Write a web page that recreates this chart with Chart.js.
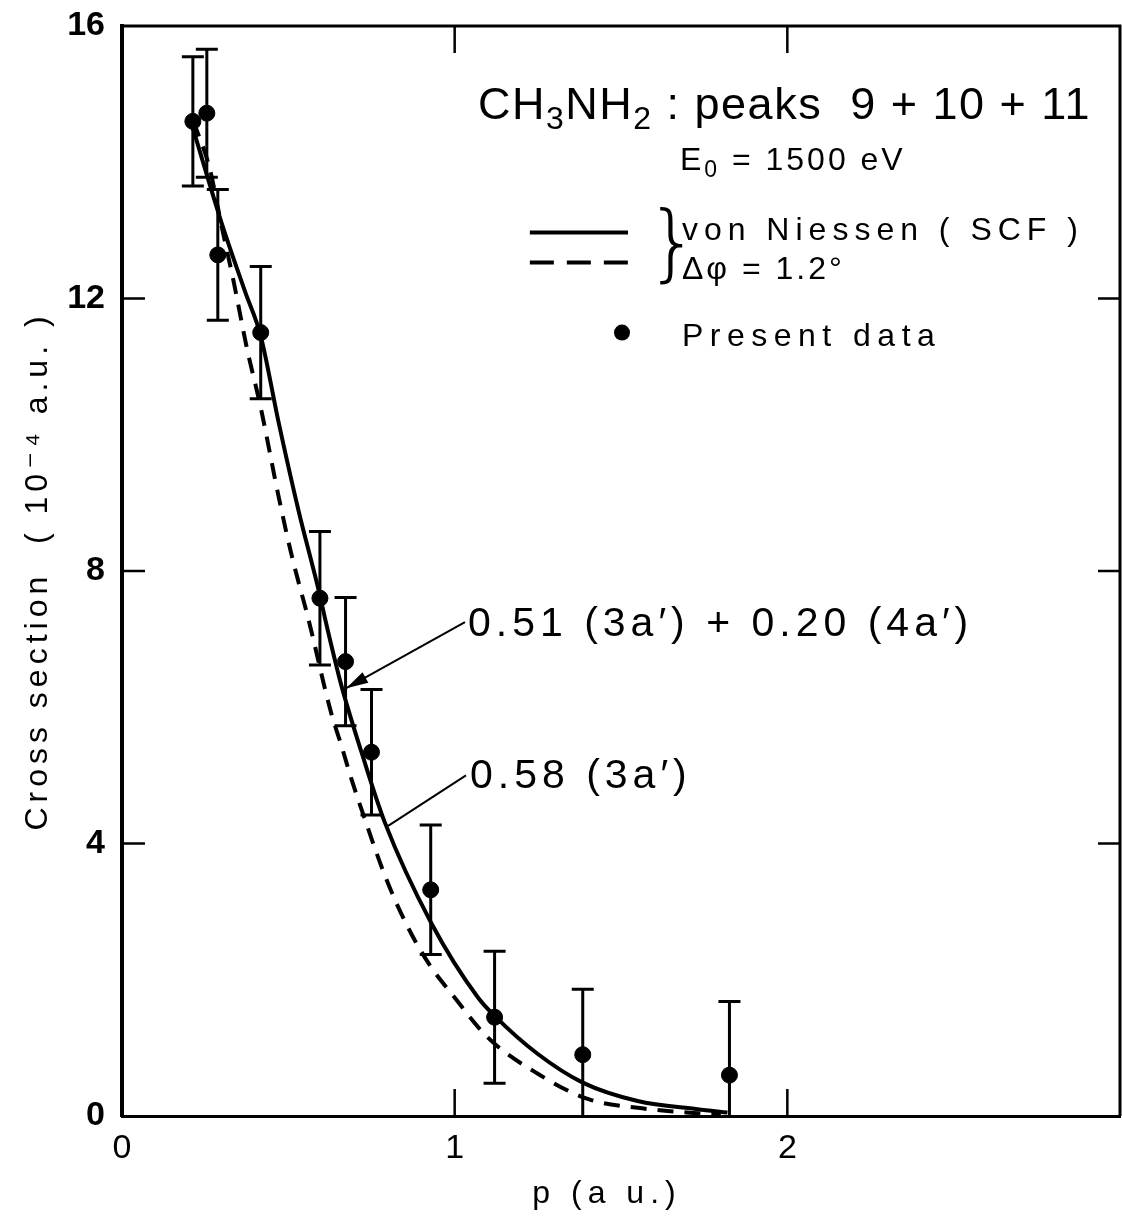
<!DOCTYPE html>
<html>
<head>
<title>CH3NH2 peaks 9+10+11 momentum distribution</title>
<script src="https://cdn.jsdelivr.net/npm/chart.js"></script>
<style>
  body { margin: 0; background: #fff; }
</style>
</head>
<body>
<canvas id="chart" width="1122" height="1222"></canvas>
<script>
// measured points: p (a.u.), cross section (1e-4 a.u.), error
const pData  = [0.213, 0.255, 0.288, 0.417, 0.595, 0.672, 0.750, 0.928, 1.120, 1.385, 1.826];
const csData = [14.60, 14.72, 12.64, 11.50, 7.60, 6.67, 5.34, 3.32, 1.45, 0.90, 0.60];
const csErr  = [0.95, 0.94, 0.96, 0.97, 0.98, 0.94, 0.92, 0.95, 0.97, 0.96, 1.08];

// von Niessen (SCF), solid curve
const pSolid  = [0.213, 0.30, 0.37, 0.417, 0.47, 0.53, 0.59, 0.62, 0.66, 0.72, 0.79, 0.93, 1.07, 1.12, 1.25, 1.385, 1.55, 1.73, 1.82];
const csSolid = [14.50, 13.10, 12.10, 11.45, 10.20, 8.90, 7.74, 7.10, 6.31, 5.34, 4.31, 2.83, 1.74, 1.47, 0.91, 0.49, 0.22, 0.10, 0.05];

// same with delta phi = 1.2 deg, dashed curve
const pDashed  = [0.215, 0.264, 0.30, 0.336, 0.375, 0.417, 0.47, 0.51, 0.56, 0.628, 0.66, 0.69, 0.72, 0.787, 0.83, 0.88, 0.93, 0.99, 1.10, 1.25, 1.40, 1.55, 1.73, 1.80];
const csDashed = [14.60, 13.90, 13.05, 12.24, 11.28, 10.40, 9.11, 8.23, 7.30, 5.93, 5.43, 4.94, 4.50, 3.57, 3.07, 2.58, 2.18, 1.80, 1.15, 0.62, 0.25, 0.12, 0.04, 0.02];

const xTicks = [0, 1, 2];
const yTicks = [0, 4, 8, 12, 16];

const FONT = '"Liberation Sans", "DejaVu Sans", sans-serif';

const toXY = (xs, ys) => xs.map((x, i) => ({x: x, y: ys[i]}));

// error bars drawn through the y scale
const errorBars = {
    id: 'errorBars',
    afterDatasetsDraw(chart) {
        const {ctx, chartArea, scales: {y}} = chart;
        chart.data.datasets.forEach((ds, i) => {
            if (!ds.yErr) return;
            const meta = chart.getDatasetMeta(i);
            ctx.save();
            ctx.beginPath();
            ctx.rect(chartArea.left, chartArea.top, chartArea.width, chartArea.height);
            ctx.clip();
            ctx.strokeStyle = '#000';
            ctx.lineWidth = 3;
            meta.data.forEach((pt, j) => {
                const v = ds.data[j].y, e = ds.yErr[j];
                const top = y.getPixelForValue(v + e);
                const bot = y.getPixelForValue(v - e);
                ctx.beginPath();
                ctx.moveTo(pt.x, top); ctx.lineTo(pt.x, bot);
                ctx.moveTo(pt.x - 11, top); ctx.lineTo(pt.x + 11, top);
                ctx.moveTo(pt.x - 11, bot); ctx.lineTo(pt.x + 11, bot);
                ctx.stroke();
            });
            ctx.restore();
        });
    }
};

// top/right frame and inward tick marks
const frame = {
    id: 'frame',
    afterDraw(chart) {
        const {ctx, chartArea: a, scales: {x, y}} = chart;
        ctx.save();
        ctx.strokeStyle = '#000';
        ctx.lineWidth = 3;
        ctx.beginPath();
        ctx.moveTo(a.left, a.top); ctx.lineTo(a.right, a.top); ctx.lineTo(a.right, a.bottom);
        ctx.stroke();
        ctx.lineWidth = 2.5;
        ctx.beginPath();
        xTicks.filter(v => v > 0).forEach(v => {
            const px = x.getPixelForValue(v);
            ctx.moveTo(px, a.bottom); ctx.lineTo(px, a.bottom - 27);
            ctx.moveTo(px, a.top); ctx.lineTo(px, a.top + 27);
        });
        yTicks.filter(v => v > 0 && v < 16).forEach(v => {
            const py = y.getPixelForValue(v);
            ctx.moveTo(a.left, py); ctx.lineTo(a.left + 23, py);
            ctx.moveTo(a.right, py); ctx.lineTo(a.right - 22, py);
        });
        ctx.stroke();
        ctx.restore();
    }
};

// text notes, legend and arrows, anchored in data coordinates
const notes = [
    {parts: [['CH'], ['3', 'sub'], ['NH'], ['2', 'sub'], [' : peaks  9 + 10 + 11']], p: 1.070, cs: 14.63, size: 45, spacing: 1.5},
    {parts: [['E'], ['0', 'sub'], [' = 1500 eV']], p: 1.677, cs: 13.88, size: 32, spacing: 3},
    {parts: [['von Niessen ( SCF )']], p: 1.683, cs: 12.86, size: 32, spacing: 6},
    {parts: [['Δφ = 1.2°']], p: 1.683, cs: 12.29, size: 32, spacing: 3},
    {parts: [['Present data']], p: 1.683, cs: 11.31, size: 32, spacing: 6.5},
    {parts: [['0.51 (3a′) + 0.20 (4a′)']], p: 1.040, cs: 7.05, size: 41, spacing: 5},
    {parts: [['0.58 (3a′)']], p: 1.046, cs: 4.82, size: 41, spacing: 5}
];
const arrows = [
    {from: [1.031, 7.25], to: [0.674, 6.28], head: true},
    {from: [1.034, 5.00], to: [0.800, 4.26], head: false}
];

const annotate = {
    id: 'annotate',
    afterDraw(chart) {
        const {ctx, chartArea: a, scales: {x, y}} = chart;
        ctx.save();
        ctx.fillStyle = '#000';
        ctx.strokeStyle = '#000';
        ctx.textBaseline = 'alphabetic';
        ctx.textAlign = 'left';

        notes.forEach(n => {
            let px = x.getPixelForValue(n.p);
            const py = y.getPixelForValue(n.cs);
            ctx.letterSpacing = (n.spacing || 0) + 'px';
            n.parts.forEach(([t, kind]) => {
                const sub = kind === 'sub';
                ctx.font = (sub ? Math.round(n.size * 0.72) : n.size) + 'px ' + FONT;
                ctx.fillText(t, px, py + (sub ? n.size * 0.22 : 0));
                px += ctx.measureText(t).width;
            });
        });
        ctx.letterSpacing = '0px';

        // legend lines
        const l0 = x.getPixelForValue(1.226), l1 = x.getPixelForValue(1.521);
        ctx.lineWidth = 4;
        ctx.beginPath();
        ctx.moveTo(l0, y.getPixelForValue(12.97)); ctx.lineTo(l1, y.getPixelForValue(12.97));
        ctx.stroke();
        ctx.setLineDash([24, 13]);
        ctx.beginPath();
        ctx.moveTo(l0, y.getPixelForValue(12.53)); ctx.lineTo(l1, y.getPixelForValue(12.53));
        ctx.stroke();
        ctx.setLineDash([]);
        ctx.font = '200 84px "DejaVu Sans", sans-serif';
        ctx.textBaseline = 'middle';
        ctx.fillText('}', x.getPixelForValue(1.575), y.getPixelForValue(12.72));
        ctx.beginPath();
        ctx.arc(x.getPixelForValue(1.503), y.getPixelForValue(11.5), 8, 0, Math.PI * 2);
        ctx.fill();

        // arrows
        ctx.lineWidth = 2;
        arrows.forEach(ar => {
            const x0 = x.getPixelForValue(ar.from[0]), y0 = y.getPixelForValue(ar.from[1]);
            const x1 = x.getPixelForValue(ar.to[0]), y1 = y.getPixelForValue(ar.to[1]);
            ctx.beginPath();
            ctx.moveTo(x0, y0); ctx.lineTo(x1, y1);
            ctx.stroke();
            if (ar.head) {
                const ang = Math.atan2(y1 - y0, x1 - x0);
                ctx.beginPath();
                ctx.moveTo(x1, y1);
                ctx.lineTo(x1 - 22 * Math.cos(ang) + 6 * Math.sin(ang), y1 - 22 * Math.sin(ang) - 6 * Math.cos(ang));
                ctx.lineTo(x1 - 22 * Math.cos(ang) - 6 * Math.sin(ang), y1 - 22 * Math.sin(ang) + 6 * Math.cos(ang));
                ctx.closePath();
                ctx.fill();
            }
        });

        // axis titles
        ctx.textAlign = 'center';
        ctx.textBaseline = 'middle';
        ctx.font = '32px ' + FONT;
        ctx.letterSpacing = '6px';
        ctx.fillText('p (a u.)', 607, a.bottom + 78);
        ctx.save();
        ctx.translate(38, (a.top + a.bottom) / 2);
        ctx.rotate(-Math.PI / 2);
        ctx.letterSpacing = '5px';
        ctx.fillText('Cross section  ( 10⁻⁴ a.u. )', 0, 0);
        ctx.restore();
        ctx.restore();
    }
};

// keep the plot box where the figure has it: no extra room for label overhang
const noOverhang = s => {
    s.paddingTop = 0; s.paddingBottom = 0; s.paddingLeft = 0; s.paddingRight = 0;
};

new Chart(document.getElementById('chart'), {
    type: 'scatter',
    data: {
        datasets: [
            {
                label: 'von Niessen (SCF)',
                data: toXY(pSolid, csSolid),
                showLine: true,
                borderColor: '#000',
                borderWidth: 4,
                pointRadius: 0,
                cubicInterpolationMode: 'monotone'
            },
            {
                label: 'Δφ = 1.2°',
                data: toXY(pDashed, csDashed),
                showLine: true,
                borderColor: '#000',
                borderWidth: 4,
                borderDash: [16, 11],
                pointRadius: 0,
                cubicInterpolationMode: 'monotone'
            },
            {
                label: 'Present data',
                data: toXY(pData, csData),
                yErr: csErr,
                showLine: false,
                backgroundColor: '#000',
                borderColor: '#000',
                pointRadius: 8
            }
        ]
    },
    options: {
        responsive: false,
        devicePixelRatio: 1,
        animation: false,
        layout: { autoPadding: false, padding: { top: 26, right: 2, left: 0, bottom: 0 } },
        plugins: {
            legend: { display: false },
            tooltip: { enabled: false }
        },
        scales: {
            x: {
                type: 'linear',
                min: 0,
                max: 3,
                afterFit: s => { s.height = 106; noOverhang(s); },
                grid: { display: false },
                border: { display: true, color: '#000', width: 3 },
                ticks: {
                    stepSize: 1,
                    autoSkip: false,
                    padding: 4,
                    color: '#000',
                    font: { family: FONT, size: 34 },
                    callback: v => xTicks.includes(v) ? String(v) : ''
                }
            },
            y: {
                min: 0,
                max: 16,
                afterFit: s => { s.width = 122; noOverhang(s); },
                grid: { display: false },
                border: { display: true, color: '#000', width: 4 },
                ticks: {
                    stepSize: 4,
                    autoSkip: false,
                    padding: 9,
                    color: '#000',
                    font: { family: FONT, size: 34, weight: 'bold' },
                    callback: v => yTicks.includes(v) ? String(v) : ''
                }
            }
        }
    },
    plugins: [errorBars, frame, annotate]
});
</script>
</body>
</html>
